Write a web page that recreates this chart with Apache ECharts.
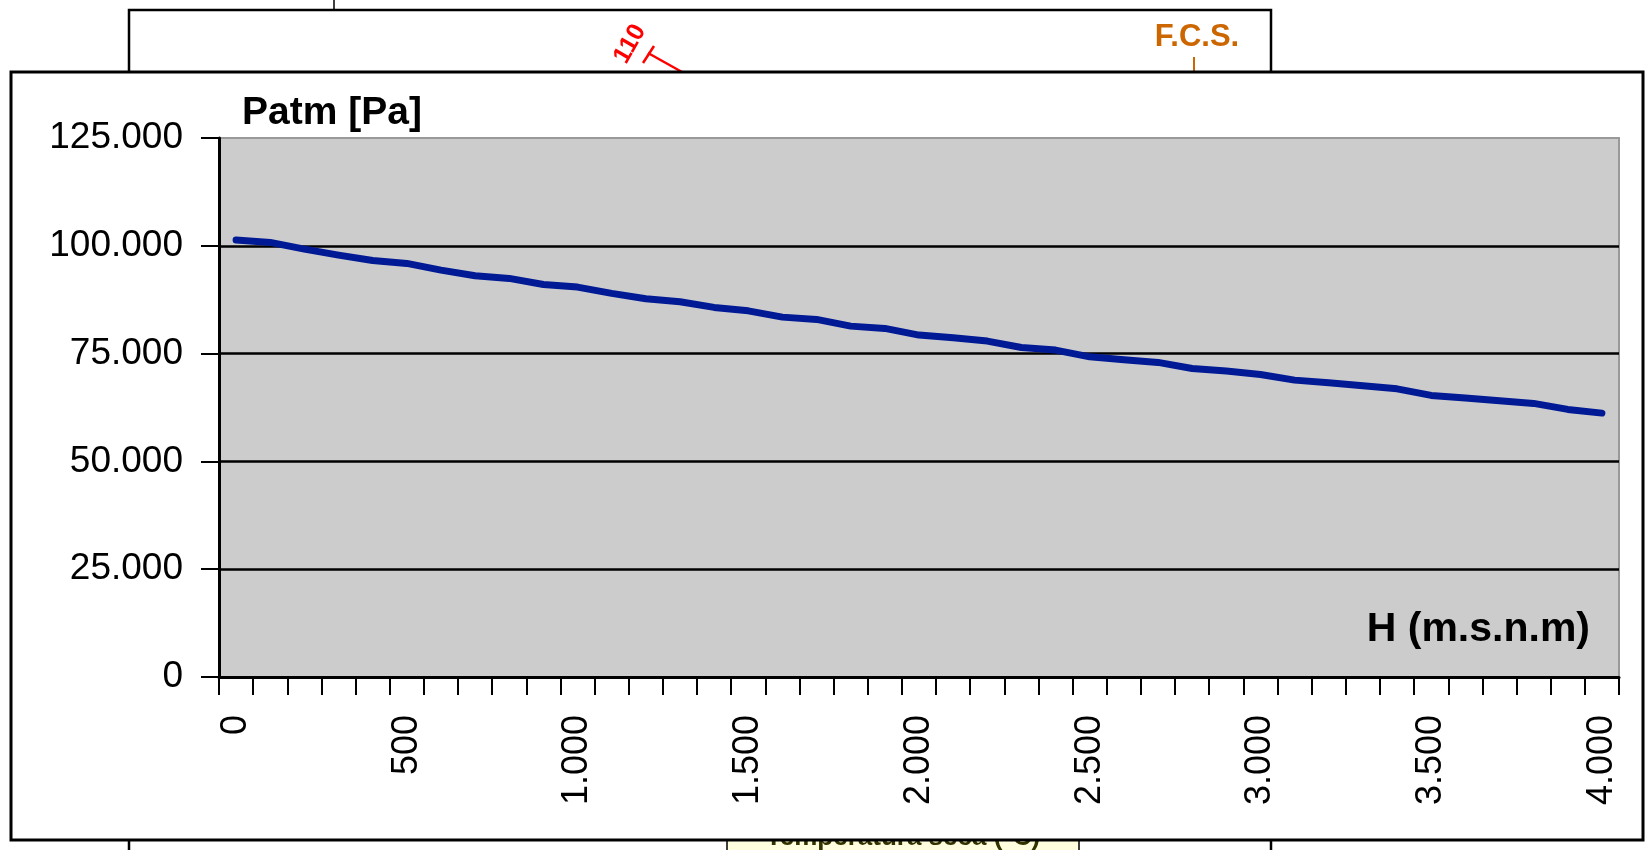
<!DOCTYPE html>
<html>
<head>
<meta charset="utf-8">
<title>Patm vs H</title>
<script src="https://cdn.jsdelivr.net/npm/echarts@6.0.0/dist/echarts.min.js"></script>
<style>
  html, body { margin: 0; padding: 0; background: #fff; }
  #chart { width: 1647px; height: 850px; }
</style>
</head>
<body>
<div id="chart"></div>
<script>
// altitud (m.s.n.m) cada 100 m
const altitudes = [
  0, 100, 200, 300, 400, 500, 600, 700, 800, 900,
  1000, 1100, 1200, 1300, 1400, 1500, 1600, 1700, 1800, 1900,
  2000, 2100, 2200, 2300, 2400, 2500, 2600, 2700, 2800, 2900,
  3000, 3100, 3200, 3300, 3400, 3500, 3600, 3700, 3800, 3900, 4000
]
// presion atmosferica [Pa]
const patm = [
  101320, 100780, 99230, 97840, 96610, 95910, 94360, 93040, 92440, 91040,
  90420, 88960, 87710, 87010, 85710, 84920, 83460, 82930, 81370, 80840,
  79290, 78660, 77900, 76430, 75810, 74250, 73560, 72960, 71560, 70940,
  70170, 68850, 68230, 67530, 66830, 65300, 64680, 64050, 63450, 62060, 61200
]
const yTicks = [0, 25000, 50000, 75000, 100000, 125000]

const FONT = '"Liberation Sans", Arial, sans-serif'

// miles con punto
const fmt = (v) => String(v).replace(/\B(?=(\d{3})+(?!\d))/g, '.')

const chart = echarts.init(document.getElementById('chart'))

const option = {
  animation: false,
  backgroundColor: '#fff',
  grid: {
    left: 219,
    right: 28,
    top: 138,
    bottom: 173,
    show: true,
    backgroundColor: '#cccccc',
    borderColor: '#999',
    borderWidth: 2
  },
  xAxis: {
    type: 'category',
    data: altitudes,
    boundaryGap: true,
    axisLine: { lineStyle: { color: '#000', width: 3 } },
    axisTick: { show: true, interval: 0, length: 18, lineStyle: { color: '#000', width: 2 } },
    axisLabel: {
      interval: 4,
      rotate: 90,
      margin: 38,
      color: '#000',
      fontSize: 36,
      fontFamily: FONT,
      formatter: (v) => fmt(v)
    },
    splitLine: { show: false }
  },
  yAxis: {
    type: 'value',
    min: yTicks[0],
    max: yTicks[yTicks.length - 1],
    interval: 25000,
    axisLine: { show: true, lineStyle: { color: '#000', width: 3 } },
    axisTick: { show: true, length: 18, lineStyle: { color: '#000', width: 2 } },
    axisLabel: {
      margin: 36,
      color: '#000',
      fontSize: 37,
      fontFamily: FONT,
      formatter: (v) => fmt(v)
    },
    splitLine: {
      show: true,
      showMaxLine: false,
      lineStyle: { color: '#000', width: 2.5 }
    }
  },
  series: [
    {
      type: 'line',
      data: patm,
      showSymbol: false,
      smooth: false,
      lineStyle: { color: '#001a96', width: 7, cap: 'round', join: 'round' },
      z: 5
    }
  ],
  graphic: [
    // restos del grafico de fondo
    { type: 'rect', z: -10, shape: { x: 129, y: 10, width: 1142, height: 900 },
      style: { fill: '#fff', stroke: '#000', lineWidth: 2.5 } },
    { type: 'line', z: -10, shape: { x1: 334, y1: 0, x2: 334, y2: 10 },
      style: { stroke: '#000', lineWidth: 1.5 } },
    { type: 'text', z: -10, x: 630, y: 44, rotation: Math.PI / 3,
      style: { text: '110', fill: '#ff0000', font: 'bold 25px ' + FONT, align: 'center', verticalAlign: 'middle' } },
    { type: 'line', z: -10, shape: { x1: 648, y1: 53, x2: 682, y2: 72 },
      style: { stroke: '#ff0000', lineWidth: 2.5 } },
    { type: 'line', z: -10, shape: { x1: 643, y1: 63, x2: 654, y2: 46 },
      style: { stroke: '#ff0000', lineWidth: 2.5 } },
    { type: 'text', z: -10, x: 1197, y: 37,
      style: { text: 'F.C.S.', fill: '#cc6600', font: 'bold 31px ' + FONT, align: 'center', verticalAlign: 'middle' } },
    { type: 'line', z: -10, shape: { x1: 1194, y1: 57, x2: 1194, y2: 72 },
      style: { stroke: '#cc6600', lineWidth: 2 } },
    { type: 'rect', z: -10, shape: { x: 727, y: 826, width: 352, height: 40 },
      style: { fill: '#ffffe0', stroke: '#000', lineWidth: 1.5 } },
    { type: 'text', z: -10, x: 903, y: 838,
      style: { text: 'Temperatura seca (°C)', fill: '#333300', font: 'bold 26px ' + FONT, align: 'center', verticalAlign: 'middle' } },
    // marco del grafico
    { type: 'rect', z: -5, shape: { x: 11, y: 72, width: 1632, height: 768 },
      style: { fill: '#fff', stroke: '#000', lineWidth: 3 } },
    // titulos de ejes
    { type: 'text', z: 10, x: 242, y: 113,
      style: { text: 'Patm [Pa]', fill: '#000', font: 'bold 39px ' + FONT, align: 'left', verticalAlign: 'middle' } },
    { type: 'text', z: 10, x: 1590, y: 630,
      style: { text: 'H (m.s.n.m)', fill: '#000', font: 'bold 41px ' + FONT, align: 'right', verticalAlign: 'middle' } }
  ]
}

chart.setOption(option)
window.addEventListener('resize', () => chart.resize())
</script>
</body>
</html>
